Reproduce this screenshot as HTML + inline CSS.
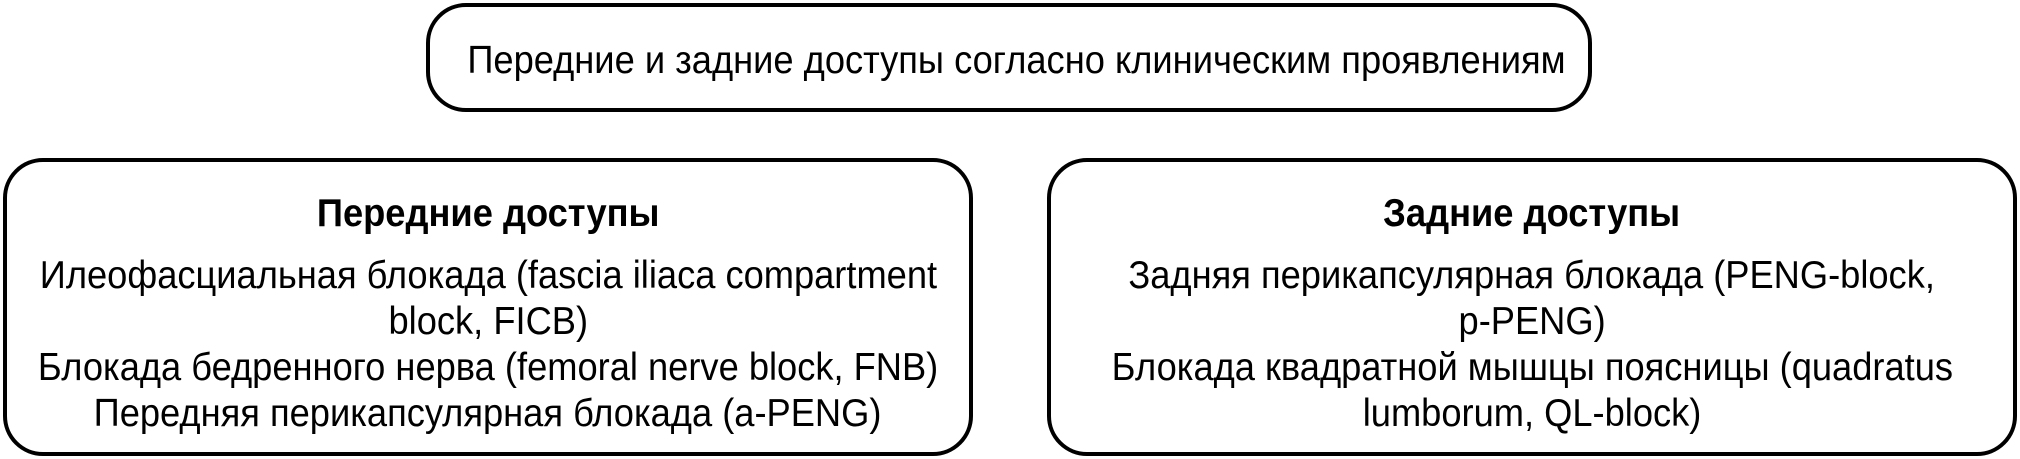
<!DOCTYPE html>
<html><head><meta charset="utf-8"><style>
html,body{margin:0;padding:0;background:#fff;}
body{width:2020px;height:459px;position:relative;overflow:hidden;font-family:"Liberation Sans Narrow","Liberation Sans",sans-serif;color:#000;}
.box{position:absolute;border:4px solid #000;border-radius:40px;box-sizing:border-box;background:#fff;}
.t{position:absolute;left:0;right:0;text-align:center;font-size:39px;line-height:46px;white-space:nowrap;}
.t span{display:inline-block;transform:scaleX(0.93);}
b{font-weight:bold;}
</style></head><body>
<div class="box" style="left:426px;top:3px;width:1166px;height:109px;"></div>
<div class="t" style="left:426px;width:1166px;right:auto;top:38px;"><span>Передние и задние доступы согласно клиническим проявлениям</span></div>

<div class="box" style="left:3px;top:158px;width:970px;height:298px;"></div>
<div style="position:absolute;left:3px;width:970px;top:191px;">
<div class="t" style="position:static;"><span><b>Передние доступы</b></span></div>
<div class="t" style="position:static;margin-top:16px;"><span>Илеофасциальная блокада (fascia iliaca compartment</span></div>
<div class="t" style="position:static;"><span>block, FICB)</span></div>
<div class="t" style="position:static;"><span>Блокада бедренного нерва (femoral nerve block, FNB)</span></div>
<div class="t" style="position:static;"><span>Передняя перикапсулярная блокада (a-PENG)</span></div>
</div>

<div class="box" style="left:1047px;top:158px;width:970px;height:298px;"></div>
<div style="position:absolute;left:1047px;width:970px;top:191px;">
<div class="t" style="position:static;"><span><b>Задние доступы</b></span></div>
<div class="t" style="position:static;margin-top:16px;"><span>Задняя перикапсулярная блокада (PENG-block,</span></div>
<div class="t" style="position:static;"><span>p-PENG)</span></div>
<div class="t" style="position:static;"><span>Блокада квадратной мышцы поясницы (quadratus</span></div>
<div class="t" style="position:static;"><span>lumborum, QL-block)</span></div>
</div>
</body></html>
